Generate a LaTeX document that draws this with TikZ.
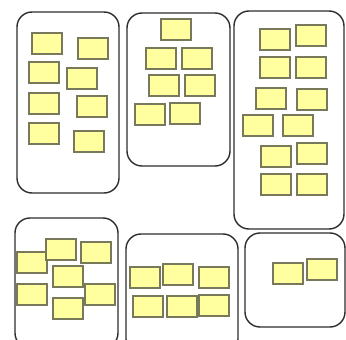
\documentclass[tikz,border=0pt]{standalone}
\usetikzlibrary{positioning}
\definecolor{notefill}{RGB}{255,255,160}
\definecolor{noteedge}{RGB}{120,120,90}
\definecolor{boxedge}{RGB}{45,45,45}
\tikzset{
  note/.style={draw=noteedge, fill=notefill, line width=1.1pt, rectangle, anchor=north west,
    minimum width=30pt, minimum height=21pt, inner sep=0pt, outer sep=0pt},
  group/.style={draw=boxedge, line width=1.4pt, rounded corners=15pt, rectangle, anchor=north west,
    inner sep=0pt, outer sep=0pt}
}
\begin{document}
\begin{tikzpicture}[x=1pt,y=-1pt]
\clip (0,0) rectangle (346,340);
\fill[white] (0,0) rectangle (346,340);
% containers
\node[group, minimum width=102pt, minimum height=181pt] (gA) at (17,12) {};
\node[group, minimum width=103pt, minimum height=153pt] (gB) at (127,13) {};
\node[group, minimum width=110pt, minimum height=218pt] (gC) at (234,11) {};
\node[group, minimum width=103pt, minimum height=130pt] (gD) at (15,218) {};
\node[group, minimum width=112pt, minimum height=120pt] (gE) at (126,234) {};
\node[group, minimum width=100pt, minimum height=94pt] (gF) at (245,233) {};
% group A
\node[note] (a1) at (32,33) {};
\node[note] (a2) at (78,38) {};
\node[note] (a3) at (29,62) {};
\node[note] (a4) at (67,68) {};
\node[note] (a5) at (29,93) {};
\node[note] (a6) at (77,96) {};
\node[note] (a7) at (29,123) {};
\node[note] (a8) at (74,131) {};
% group B
\node[note] (b1) at (161,19) {};
\node[note] (b2) at (146,48) {};
\node[note] (b3) at (182,48) {};
\node[note] (b4) at (149,75) {};
\node[note] (b5) at (185,75) {};
\node[note] (b6) at (135,104) {};
\node[note] (b7) at (170,103) {};
% group C
\node[note] (c1) at (260,29) {};
\node[note] (c2) at (296,25) {};
\node[note] (c3) at (260,57) {};
\node[note] (c4) at (296,57) {};
\node[note] (c5) at (256,88) {};
\node[note] (c6) at (297,89) {};
\node[note] (c7) at (243,115) {};
\node[note] (c8) at (283,115) {};
\node[note] (c9) at (261,146) {};
\node[note] (c10) at (297,143) {};
\node[note] (c11) at (261,174) {};
\node[note] (c12) at (297,174) {};
% group D
\node[note] (d1) at (17,252) {};
\node[note] (d2) at (46,239) {};
\node[note] (d3) at (81,242) {};
\node[note] (d4) at (53,266) {};
\node[note] (d5) at (17,284) {};
\node[note] (d6) at (85,284) {};
\node[note] (d7) at (53,298) {};
% group E
\node[note] (e1) at (130,267) {};
\node[note] (e2) at (163,264) {};
\node[note] (e3) at (199,267) {};
\node[note] (e4) at (133,296) {};
\node[note] (e5) at (167,296) {};
\node[note] (e6) at (199,295) {};
% group F
\node[note] (f1) at (273,263) {};
\node[note] (f2) at (307,259) {};
\end{tikzpicture}
\end{document}
